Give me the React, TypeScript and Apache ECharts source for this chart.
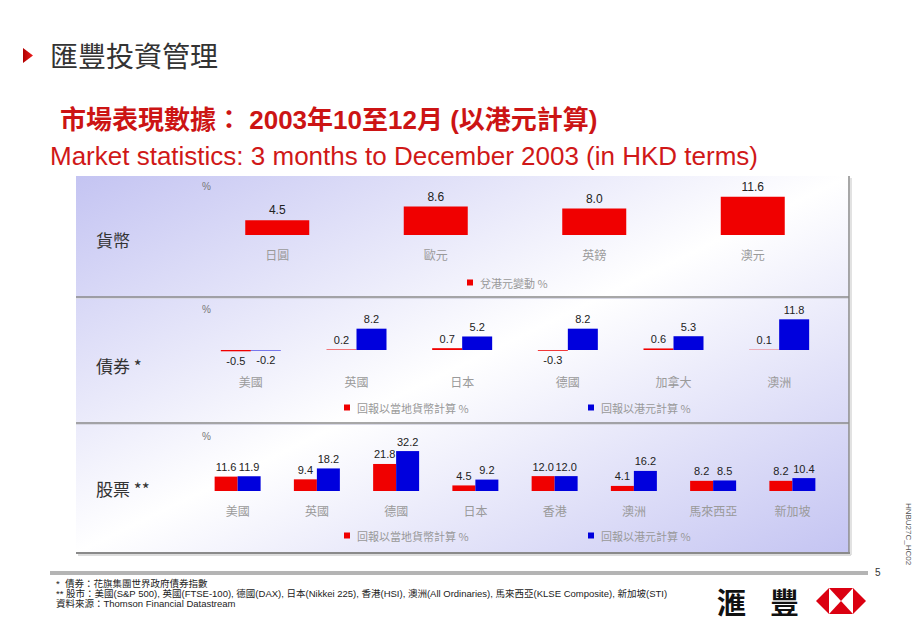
import React, { useEffect, useRef } from 'react';
import * as echarts from 'echarts';

const currencyCats = ['日圓', '歐元', '英鎊', '澳元'];
const currencyVals = [4.5, 8.6, 8.0, 11.6];

const bondCats = ['美國', '英國', '日本', '德國', '加拿大', '澳洲'];
const bondLocal = [-0.5, 0.2, 0.7, -0.3, 0.6, 0.1];
const bondHKD = [-0.2, 8.2, 5.2, 8.2, 5.3, 11.8];

const equityCats = ['美國', '英國', '德國', '日本', '香港', '澳洲', '馬來西亞', '新加坡'];
const equityLocal = [11.6, 9.4, 21.8, 4.5, 12.0, 4.1, 8.2, 8.2];
const equityHKD = [11.9, 18.2, 32.2, 9.2, 12.0, 16.2, 8.5, 10.4];

const NAME_FX = '兌港元變動 %';
const NAME_LOCAL = '回報以當地貨幣計算 %';
const NAME_HKD = '回報以港元計算 %';

const RED = '#f00000';
const BLUE = '#0000dd';
const LATIN = '"Liberation Sans", Arial, "Noto Sans CJK TC", sans-serif';
const CJK = '"Noto Sans CJK TC", "Liberation Sans", sans-serif';

const panels = [
  { base: 235, scale: 3.3, min: 0, max: 15, margin: 13, barWidth: 64 },
  { base: 350, scale: 2.6, min: -2, max: 12, margin: 20, barWidth: 30 },
  { base: 491, scale: 1.24, min: 0, max: 35, margin: 13, barWidth: 23 },
];

function toData(vals: number[]) {
  return vals.map((v) => (v < 0 ? { value: v, label: { position: 'bottom' } } : { value: v }));
}

export default function App() {
  const ref = useRef<HTMLDivElement>(null);
  useEffect(() => {
    if (!ref.current) return;
    const chart = echarts.init(ref.current, undefined, { renderer: 'svg' });
    const grids = panels.map((p) => ({
      left: 198,
      width: 634,
      top: p.base - p.max * p.scale,
      height: (p.max - p.min) * p.scale,
    }));
    const cats = [currencyCats, bondCats, equityCats];
    const xAxis = cats.map((c, i) => ({
      type: 'category',
      gridIndex: i,
      data: c,
      axisLine: { show: false },
      axisTick: { show: false },
      axisLabel: { interval: 0, color: '#9a9a9a', fontSize: 12, fontFamily: CJK, margin: panels[i].margin },
    }));
    const yAxis = panels.map((p, i) => ({
      type: 'value',
      gridIndex: i,
      min: p.min,
      max: p.max,
      show: false,
      splitLine: { show: false },
    }));
    const lbl = (size: number) => ({
      show: true,
      position: 'top',
      distance: 4,
      fontSize: size,
      color: '#222',
      fontFamily: LATIN,
      formatter: (p: any) => Number(p.value).toFixed(1),
    });
    const series = [
      { type: 'bar', name: NAME_FX, xAxisIndex: 0, yAxisIndex: 0, data: toData(currencyVals), barWidth: panels[0].barWidth, itemStyle: { color: RED }, label: lbl(12) },
      { type: 'bar', name: NAME_LOCAL, xAxisIndex: 1, yAxisIndex: 1, data: toData(bondLocal), barWidth: panels[1].barWidth, barGap: '0%', itemStyle: { color: RED }, label: lbl(11) },
      { type: 'bar', name: NAME_HKD, xAxisIndex: 1, yAxisIndex: 1, data: toData(bondHKD), barWidth: panels[1].barWidth, barGap: '0%', itemStyle: { color: BLUE }, label: lbl(11) },
      { type: 'bar', name: NAME_LOCAL, xAxisIndex: 2, yAxisIndex: 2, data: toData(equityLocal), barWidth: panels[2].barWidth, barGap: '0%', itemStyle: { color: RED }, label: lbl(11) },
      { type: 'bar', name: NAME_HKD, xAxisIndex: 2, yAxisIndex: 2, data: toData(equityHKD), barWidth: panels[2].barWidth, barGap: '0%', itemStyle: { color: BLUE }, label: lbl(11) },
    ];
    const leg = (name: string, left: number, top: number) => ({
      data: [name],
      left,
      top,
      padding: 0,
      icon: 'rect',
      itemWidth: 6,
      itemHeight: 6,
      selectedMode: false,
      textStyle: { color: '#999', fontSize: 11, fontFamily: CJK, padding: [0, 0, 0, 2] },
    });
    const legend = [
      leg(NAME_FX, 467, 277),
      leg(NAME_LOCAL, 344, 402),
      leg(NAME_HKD, 588, 402),
      leg(NAME_LOCAL, 344, 530),
      leg(NAME_HKD, 588, 530),
    ];
    const txt = (text: string, x: number, y: number, size: number, fill: string, extra: any = {}) => ({
      type: 'text',
      x,
      y,
      silent: true,
      style: { text, fontSize: size, fill, fontFamily: CJK, verticalAlign: 'middle', ...extra },
    });
    const graphic = [
      {
        type: 'rect',
        z: -10,
        silent: true,
        shape: { x: 76, y: 176, width: 773, height: 377 },
        style: {
          fill: new echarts.graphic.LinearGradient(0, 0, 1, 1, [
            { offset: 0, color: '#c4c4f2' },
            { offset: 0.5, color: '#ffffff' },
            { offset: 1, color: '#c4c4f2' },
          ]),
        },
      },
      { type: 'line', z: -5, silent: true, shape: { x1: 76, y1: 297, x2: 849, y2: 297 }, style: { stroke: '#8a8a8a', lineWidth: 1.5 } },
      { type: 'line', z: -5, silent: true, shape: { x1: 76, y1: 298.5, x2: 849, y2: 298.5 }, style: { stroke: '#d8d8e4', lineWidth: 1 } },
      { type: 'line', z: -5, silent: true, shape: { x1: 76, y1: 423, x2: 849, y2: 423 }, style: { stroke: '#8a8a8a', lineWidth: 1.5 } },
      { type: 'line', z: -5, silent: true, shape: { x1: 76, y1: 424.5, x2: 849, y2: 424.5 }, style: { stroke: '#d8d8e4', lineWidth: 1 } },
      { type: 'line', z: -5, silent: true, shape: { x1: 76, y1: 553, x2: 850, y2: 553 }, style: { stroke: '#8a8a8a', lineWidth: 2 } },
      { type: 'line', z: -5, silent: true, shape: { x1: 78, y1: 555, x2: 851, y2: 555 }, style: { stroke: '#d0d0d0', lineWidth: 1.5 } },
      { type: 'line', z: -5, silent: true, shape: { x1: 849, y1: 176, x2: 849, y2: 553 }, style: { stroke: '#8a8a8a', lineWidth: 1.5 } },
      { type: 'line', z: -5, silent: true, shape: { x1: 851, y1: 178, x2: 851, y2: 555 }, style: { stroke: '#d8d8d8', lineWidth: 1.5 } },
      // header
      {
        type: 'polygon',
        silent: true,
        shape: { points: [[23, 48], [33, 55.5], [23, 63]] },
        style: {
          fill: new echarts.graphic.LinearGradient(0, 0, 1, 0, [
            { offset: 0, color: '#b00000' },
            { offset: 1, color: '#ee1c1c' },
          ]),
        },
      },
      txt('匯豐投資管理', 50, 55, 28, '#333333'),
      txt('市場表現數據： 2003年10至12月 (以港元計算)', 60, 120, 26, '#cc1414', { fontWeight: 'bold', fontFamily: LATIN }),
      txt('Market statistics: 3 months to December 2003 (in HKD terms)', 50, 156, 26, '#d01818', { fontFamily: LATIN }),
      // section labels
      txt('貨幣', 96, 239, 17, '#333333'),
      txt('債券 *', 96, 365, 17, '#333333'),
      txt('股票 **', 96, 488, 17, '#333333'),
      txt('%', 202, 186, 10, '#777777', { fontFamily: LATIN }),
      txt('%', 202, 309, 10, '#777777', { fontFamily: LATIN }),
      txt('%', 202, 436, 10, '#777777', { fontFamily: LATIN }),
      // footer
      { type: 'rect', silent: true, shape: { x: 50, y: 571, width: 818, height: 4 }, style: { fill: '#b4b4b4' } },
      txt('5', 875, 572, 10, '#333333', { fontFamily: LATIN }),
      txt('*  債券：花旗集團世界政府債券指數', 56, 583, 9.5, '#222222', { fontFamily: LATIN, lineHeight: 10 }),
      txt('** 股市：美國(S&P 500), 英國(FTSE-100), 德國(DAX), 日本(Nikkei 225), 香港(HSI), 澳洲(All Ordinaries), 馬來西亞(KLSE Composite), 新加坡(STI)', 56, 593, 9.5, '#222222', { fontFamily: LATIN, lineHeight: 10 }),
      txt('資料來源：Thomson Financial Datastream', 56, 603, 9.5, '#222222', { fontFamily: LATIN, lineHeight: 10 }),
      txt('滙', 717, 601, 29, '#111111', { fontWeight: 'bold' }),
      txt('豐', 770, 601, 29, '#111111', { fontWeight: 'bold' }),
      { type: 'polygon', silent: true, shape: { points: [[816, 601], [829, 588], [829, 614]] }, style: { fill: '#db0011' } },
      { type: 'polygon', silent: true, shape: { points: [[866, 601], [853, 588], [853, 614]] }, style: { fill: '#db0011' } },
      { type: 'polygon', silent: true, shape: { points: [[829, 588], [853, 588], [841, 601]] }, style: { fill: '#db0011' } },
      { type: 'polygon', silent: true, shape: { points: [[829, 614], [853, 614], [841, 601]] }, style: { fill: '#db0011' } },
      {
        type: 'text',
        x: 908,
        y: 534,
        rotation: -Math.PI / 2,
        silent: true,
        style: { text: 'HNBU27C_HC02', fontSize: 8, fill: '#555555', fontFamily: LATIN, align: 'center', verticalAlign: 'middle' },
      },
    ];
    chart.setOption({
      animation: false,
      backgroundColor: '#ffffff',
      grid: grids,
      xAxis,
      yAxis,
      series,
      legend,
      graphic,
    });
    return () => chart.dispose();
  }, []);
  return <div ref={ref} style={{ position: 'absolute', left: 0, top: 0, width: 920, height: 637 }} />;
}
